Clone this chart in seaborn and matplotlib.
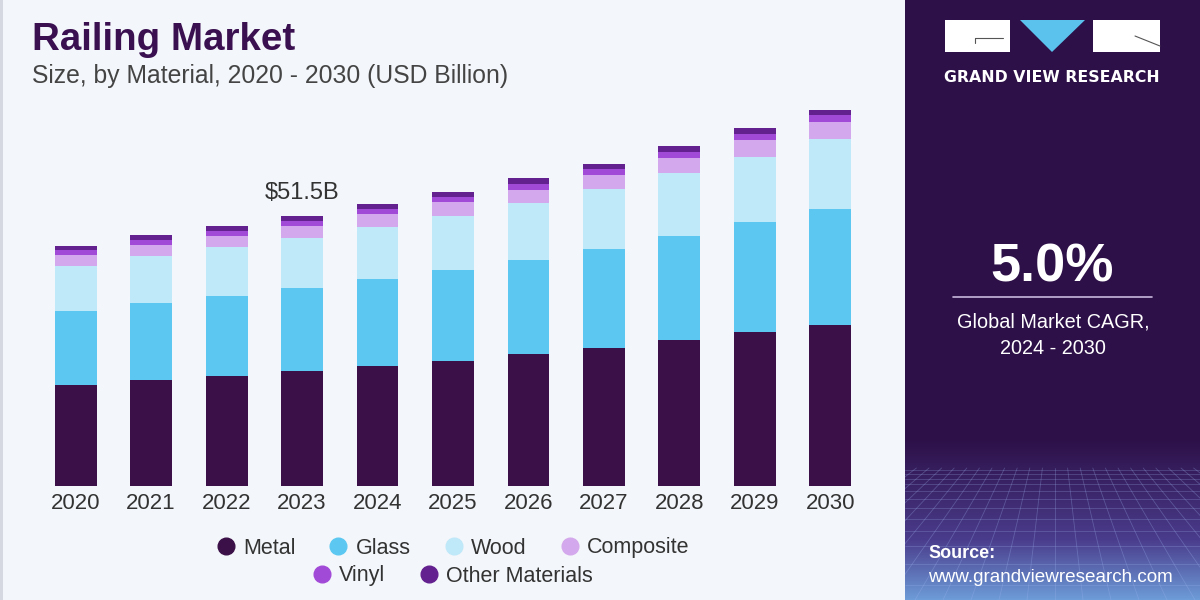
import numpy as np
import pandas as pd
import matplotlib
matplotlib.use("Agg")
import matplotlib.pyplot as plt
import seaborn as sns
from matplotlib.patches import Rectangle, Polygon
from matplotlib.lines import Line2D

# ---------------- data ----------------
years = ['2020', '2021', '2022', '2023', '2024', '2025', '2026', '2027', '2028', '2029', '2030']
metal = [19.3, 20.2, 21.0, 21.9, 22.8, 23.8, 25.1, 26.3, 27.9, 29.3, 30.8]
glass = [14.0, 14.8, 15.3, 15.8, 16.7, 17.4, 18.0, 18.9, 19.7, 21.0, 22.1]
wood = [8.6, 8.9, 9.2, 9.6, 9.9, 10.3, 10.8, 11.4, 12.1, 12.4, 13.3]
composite = [2.1, 2.0, 2.2, 2.2, 2.4, 2.6, 2.5, 2.7, 2.9, 3.3, 3.2]
vinyl = [1.0, 1.1, 1.0, 1.0, 1.0, 1.0, 1.3, 1.2, 1.2, 1.1, 1.3]
other = [0.8, 0.8, 0.9, 1.0, 1.0, 1.0, 1.0, 1.0, 1.1, 1.1, 1.1]
series_names = ['Metal', 'Glass', 'Wood', 'Composite', 'Vinyl', 'Other Materials']
series_vals = [metal, glass, wood, composite, vinyl, other]
colors = ['#3b1049', '#5cc8f2', '#bfe8f8', '#d4a8ec', '#a24ad8', '#63208f']
highlight_year = '2023'
highlight_label = '$51.5B'
cagr_text = '5.0%'

sns.set_theme(style='white')
plt.rcParams['font.family'] = ['Liberation Sans', 'DejaVu Sans']

BG = '#f3f6fa'
fig = plt.figure(figsize=(12, 6), dpi=100, facecolor=BG)

# main axes
ax = fig.add_axes([38 / 1200, 114 / 600, 830 / 1200, 419.4 / 600])
ax.set_facecolor(BG)

cum = np.zeros(len(years))
cums = []
for v in series_vals:
    cum = cum + np.array(v)
    cums.append(cum.copy())

# draw tallest (cumulative) first so lower layers overlay
for name, c, col in reversed(list(zip(series_names, cums, colors))):
    d = pd.DataFrame({'year': years, 'val': c})
    sns.barplot(data=d, x='year', y='val', color=col, width=0.555,
                linewidth=0, saturation=1, ax=ax)

ax.set_xlim(-0.5, 10.5)
ax.set_ylim(0, 80)
ax.set_xlabel('')
ax.set_ylabel('')
ax.set_yticks([])
for s in ax.spines.values():
    s.set_visible(False)
ax.tick_params(axis='x', length=0, pad=5, labelsize=16, labelcolor='#333333')

hi = years.index(highlight_year)
ax.annotate(highlight_label, xy=(hi, cums[-1][hi]), xytext=(0, 9),
            textcoords='offset points', ha='center', va='bottom',
            fontsize=17, color='#333333')

# titles
fig.text(32 / 1200, 1 - 40 / 600, 'Railing Market', fontsize=27.7, fontweight='bold',
         color='#3a1050', ha='left', va='center')
fig.text(32 / 1200, 1 - 76 / 600, 'Size, by Material, 2020 - 2030 (USD Billion)',
         fontsize=17.8, color='#444444', ha='left', va='center')

# legends
handles = [Line2D([0], [0], marker='o', linestyle='', markersize=12,
                  markerfacecolor=c, markeredgecolor=c) for c in colors]
leg1 = fig.legend(handles[:4], series_names[:4], loc='center', ncol=4,
                  bbox_to_anchor=(452 / 1200, 1 - 548 / 600), frameon=False,
                  fontsize=15.5, handletextpad=0.3, columnspacing=1.5,
                  handlelength=1.0, labelcolor='#333333')
leg2 = fig.legend(handles[4:], series_names[4:], loc='center', ncol=2,
                  bbox_to_anchor=(452 / 1200, 1 - 576 / 600), frameon=False,
                  fontsize=15.5, handletextpad=0.3, columnspacing=1.5,
                  handlelength=1.0, labelcolor='#333333')

# left thin border
fig.add_artist(Rectangle((0, 0), 3 / 1200, 1, transform=fig.transFigure,
                         facecolor='#d5d8e0', edgecolor='none'))

# right panel
pax = fig.add_axes([905 / 1200, 0, 295 / 1200, 1])
pax.set_xlim(0, 295)
pax.set_ylim(600, 0)
pax.axis('off')
top = np.array([0x2d, 0x10, 0x48]) / 255
mid = np.array([0x4a, 0x3c, 0x8c]) / 255
bot = np.array([0x6d, 0x9c, 0xd8]) / 255
ys = np.linspace(0, 600, 600)
grad = np.zeros((600, 1, 3))
for i, y in enumerate(ys):
    if y < 440:
        grad[i, 0] = top
    elif y < 540:
        t = (y - 440) / 100
        grad[i, 0] = top * (1 - t) + mid * t
    else:
        t = (y - 540) / 60
        grad[i, 0] = mid * (1 - t) + bot * t
pax.imshow(grad, extent=(0, 295, 600, 0), aspect='auto')
# perspective grid (decorative)
vx, vy = 150, 360
for k in range(-14, 15):
    x_end = 150 + k * 28
    pax.plot([vx + (x_end - vx) * 0.45, x_end], [vy + (600 - vy) * 0.45, 600],
             color='#9fb4ee', lw=0.6, alpha=0.3)
hy = 470
step = 4
while hy < 600:
    pax.plot([0, 295], [hy, hy], color='#9fb4ee', lw=0.6, alpha=0.28)
    hy += step
    step *= 1.18

# logo
pax.add_patch(Rectangle((945 - 905, 20), 65, 32, facecolor='white', edgecolor='none'))
pax.plot([975 - 905, 1003 - 905], [38, 38], color='#555555', lw=0.8)
pax.plot([975 - 905, 975 - 905], [38, 43], color='#555555', lw=0.8)
pax.add_patch(Polygon([(1020 - 905, 20), (1085 - 905, 20), (1052 - 905, 52)],
                      closed=True, facecolor='#5bc2ee', edgecolor='none'))
pax.add_patch(Rectangle((1093 - 905, 20), 67, 32, facecolor='white', edgecolor='none'))
pax.plot([1135 - 905, 1160 - 905], [36, 46], color='#555555', lw=0.8)

fig.text(1052 / 1200, 1 - 77 / 600, 'GRAND VIEW RESEARCH', fontsize=11.3,
         fontweight='bold', color='white', ha='center', va='center',
         family=['DejaVu Sans'])
fig.text(1052 / 1200, 1 - 268 / 600, cagr_text, fontsize=39, fontweight='bold',
         color='white', ha='center', va='center')
pax.plot([953 - 905, 1152 - 905], [297, 297], color='#c9b8dc', lw=1.2)
fig.text(1053 / 1200, 1 - 322 / 600, 'Global Market CAGR,', fontsize=14.3,
         color='white', ha='center', va='center')
fig.text(1053 / 1200, 1 - 348 / 600, '2024 - 2030', fontsize=14.3,
         color='white', ha='center', va='center')
fig.text(928 / 1200, 1 - 553 / 600, 'Source:', fontsize=13, fontweight='bold',
         color='white', ha='left', va='center')
fig.text(928 / 1200, 1 - 577 / 600, 'www.grandviewresearch.com', fontsize=13.6,
         color='white', ha='left', va='center')

fig.savefig('out.png', dpi=100, facecolor=BG)
